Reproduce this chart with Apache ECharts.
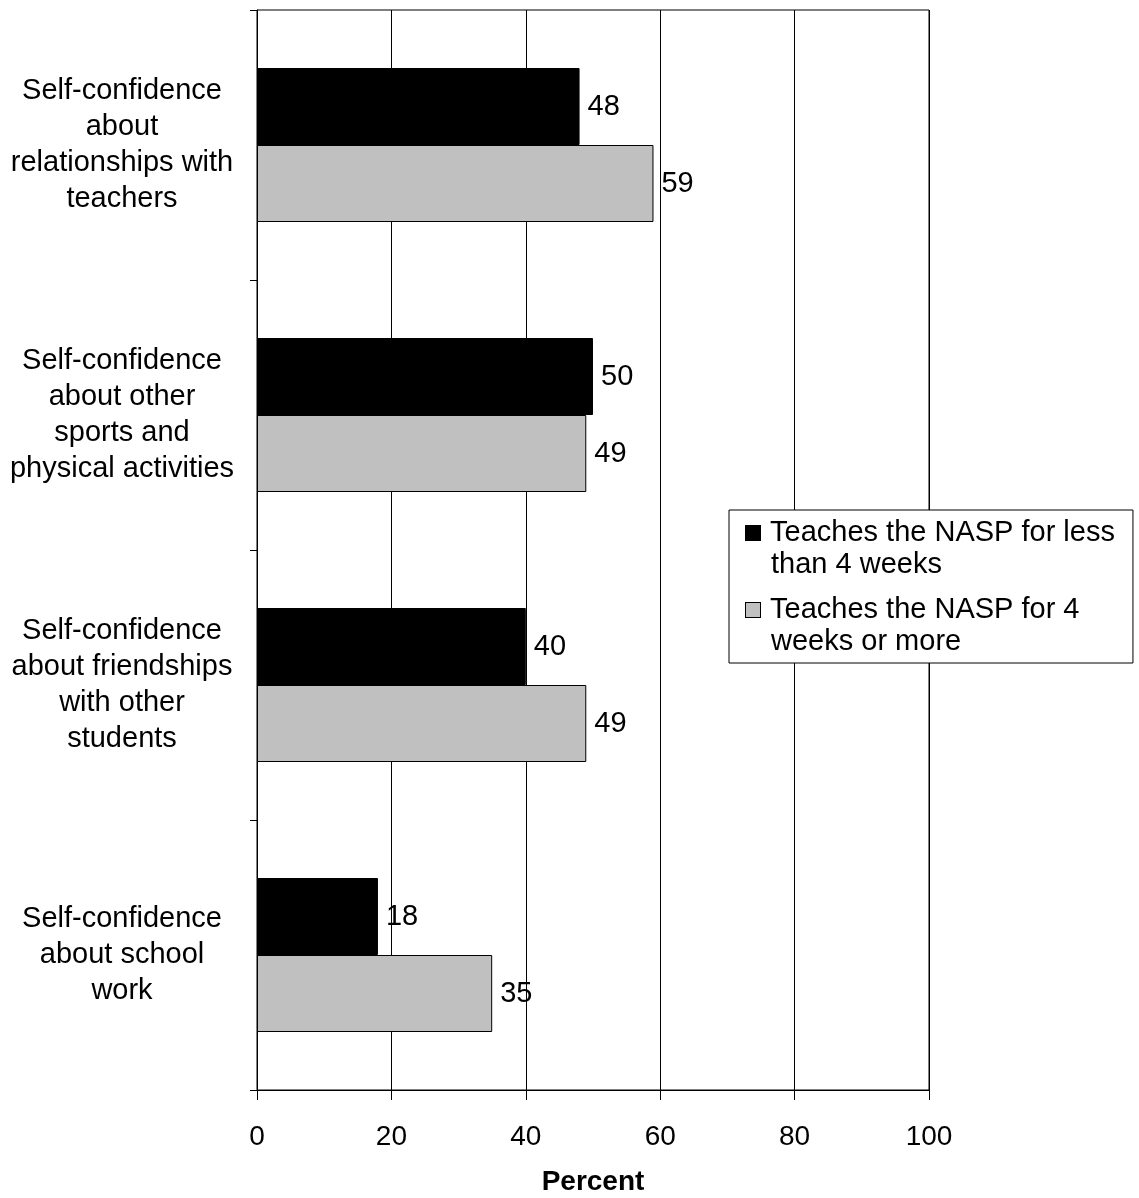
<!DOCTYPE html>
<html>
<head>
<meta charset="utf-8">
<script src="https://cdn.jsdelivr.net/npm/echarts@6/dist/echarts.min.js"></script>
<style>
html,body{margin:0;padding:0;background:#fff;}
#chart{width:1139px;height:1198px;}
</style>
</head>
<body>
<div id="chart"></div>
<script>
const categories = [
  "Self-confidence\nabout\nrelationships with\nteachers",
  "Self-confidence\nabout other\nsports and\nphysical activities",
  "Self-confidence\nabout friendships\nwith other\nstudents",
  "Self-confidence\nabout school\nwork"
];
const seriesNames = ["Teaches the NASP for less than 4 weeks", "Teaches the NASP for 4 weeks or more"];
const legendLines = [["Teaches the NASP for less", "than 4 weeks"], ["Teaches the NASP for 4", "weeks or more"]];
const lessThan4Weeks = [48, 50, 40, 18];
const fourWeeksOrMore = [59, 49, 49, 35];
const xTicks = [0, 20, 40, 60, 80, 100];

const FONT = "'Liberation Sans', Arial, sans-serif";
const chart = echarts.init(document.getElementById('chart'), null, {renderer: 'canvas'});

const labelStyle = {show: true, position: 'right', distance: 8, fontSize: 29, color: '#000', fontFamily: FONT};

chart.setOption({
  animation: false,
  backgroundColor: '#fff',
  textStyle: {fontFamily: FONT},
  grid: {left: 257, right: 210, top: 10, bottom: 108, containLabel: false, outerBoundsMode: 'none',
    show: true, borderColor: '#000', borderWidth: 1, backgroundColor: 'transparent'},
  legend: {
    orient: 'vertical',
    left: 729, top: 510,
    padding: [7, 18, 5, 12],
    itemGap: 13,
    icon: 'none',
    itemWidth: 0, itemHeight: 14,
    borderColor: '#000', borderWidth: 1, backgroundColor: '#fff',
    data: seriesNames,
    formatter: function (name) {
      const i = seriesNames.indexOf(name);
      const box = i === 0 ? 'b0' : 'b1';
      return '{' + box + '|}{g|}{t|' + legendLines[i][0] + '}\n{ind|}{t|' + legendLines[i][1] + '}';
    },
    textStyle: {
      fontSize: 29, color: '#000', fontFamily: FONT, lineHeight: 32,
      rich: {
        b0: {width: 14, height: 14, backgroundColor: '#000', borderColor: '#000', borderWidth: 1},
        b1: {width: 14, height: 14, backgroundColor: '#c0c0c0', borderColor: '#000', borderWidth: 1},
        g: {width: 10},
        ind: {width: 25},
        t: {fontSize: 29, lineHeight: 32, color: '#000', fontFamily: FONT}
      }
    }
  },
  xAxis: {
    type: 'value', min: 0, max: 100, interval: 20,
    name: 'Percent', nameLocation: 'middle', nameGap: 78,
    nameTextStyle: {fontSize: 28, fontWeight: 'bold', color: '#000', fontFamily: FONT},
    axisLine: {show: true, lineStyle: {color: '#000', width: 1}},
    axisTick: {show: true, length: 10, lineStyle: {color: '#000'}},
    axisLabel: {fontSize: 28, color: '#000', margin: 33, fontFamily: FONT,
      formatter: v => xTicks.includes(v) ? String(v) : ''},
    splitLine: {show: true, lineStyle: {color: '#000', width: 1}}
  },
  yAxis: {
    type: 'category', inverse: true, data: categories,
    axisLine: {show: true, lineStyle: {color: '#000', width: 1}},
    axisTick: {show: true, length: 7, lineStyle: {color: '#000'}},
    axisLabel: {fontSize: 29, color: '#000', lineHeight: 36, margin: 135, align: 'center', fontFamily: FONT},
    splitLine: {show: false}
  },
  series: [
    {
      name: seriesNames[0], type: 'bar', data: lessThan4Weeks,
      barWidth: 77, barGap: '0%',
      itemStyle: {color: '#000', borderColor: '#000', borderWidth: 1},
      label: labelStyle
    },
    {
      name: seriesNames[1], type: 'bar', data: fourWeeksOrMore,
      barWidth: 77, barGap: '0%',
      itemStyle: {color: '#c0c0c0', borderColor: '#000', borderWidth: 1},
      label: labelStyle
    }
  ]
});
</script>
</body>
</html>
